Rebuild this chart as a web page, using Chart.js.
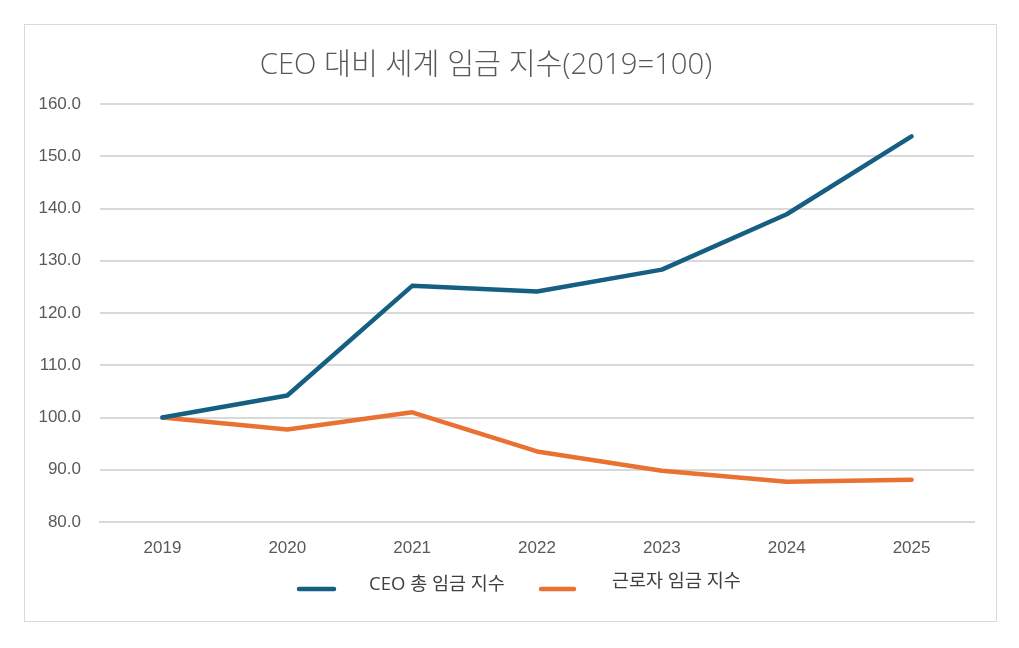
<!DOCTYPE html>
<html>
<head>
<meta charset="utf-8">
<script src="https://cdn.jsdelivr.net/npm/chart.js@4"></script>
<style>
html,body{margin:0;padding:0;background:#fff;}
#wrap{position:relative;width:1019px;height:648px;}
</style>
</head>
<body>
<div id="wrap"><canvas id="c" width="1019" height="648"></canvas></div>
<script>
const titleText = 'CEO 대비 세계 임금 지수(2019=100)';
const years = ['2019','2020','2021','2022','2023','2024','2025'];
const ceoLabel = 'CEO 총 임금 지수';
const ceoValues = [100.0, 104.2, 125.2, 124.1, 128.3, 138.9, 153.8];
const workerLabel = '근로자 임금 지수';
const workerValues = [100.0, 97.7, 101.0, 93.5, 89.8, 87.7, 88.1];
const yMin = 80, yMax = 160, yStep = 10;

const KFONT = '"Open Sans", "Noto Sans CJK KR", sans-serif';
const TFONT = '"Liberation Sans", Arial, sans-serif';

const decor = {
  id: 'decor',
  beforeDraw(chart) {
    const ctx = chart.ctx;
    ctx.save();
    ctx.fillStyle = '#ffffff';
    ctx.fillRect(0, 0, chart.width, chart.height);
    ctx.strokeStyle = '#d9d9d9';
    ctx.lineWidth = 1;
    ctx.strokeRect(24.5, 24.5, 972, 597);
    ctx.restore();
  },
  afterDraw(chart) {
    const ctx = chart.ctx;
    ctx.save();
    // title
    ctx.fillStyle = '#595959';
    ctx.font = '300 29.3px ' + KFONT;
    ctx.textAlign = 'center';
    ctx.textBaseline = 'middle';
    ctx.fillText(titleText, 486, 66);
    // legend
    const items = [
      {x0: 299, x1: 334, ly: 589, tx: 369, ty: 585},
      {x0: 541, x1: 574, ly: 589, tx: 612, ty: 582}
    ];
    chart.data.datasets.forEach((ds, i) => {
      const it = items[i];
      ctx.strokeStyle = ds.borderColor;
      ctx.lineWidth = 4.5;
      ctx.lineCap = 'round';
      ctx.beginPath();
      ctx.moveTo(it.x0, it.ly);
      ctx.lineTo(it.x1, it.ly);
      ctx.stroke();
      ctx.fillStyle = '#404040';
      ctx.font = '18.5px ' + KFONT;
      ctx.textAlign = 'left';
      ctx.textBaseline = 'middle';
      ctx.fillText(ds.label, it.tx, it.ty);
    });
    ctx.restore();
  }
};

new Chart(document.getElementById('c'), {
  type: 'line',
  data: {
    labels: years,
    datasets: [
      {label: ceoLabel, data: ceoValues, borderColor: '#156082', backgroundColor: '#156082',
       borderWidth: 4.5, pointRadius: 0, tension: 0, borderCapStyle: 'round', borderJoinStyle: 'round'},
      {label: workerLabel, data: workerValues, borderColor: '#E97132', backgroundColor: '#E97132',
       borderWidth: 4.5, pointRadius: 0, tension: 0, borderCapStyle: 'round', borderJoinStyle: 'round'}
    ]
  },
  options: {
    responsive: false,
    animation: false,
    devicePixelRatio: 1,
    layout: {padding: {left: 0, right: 45, top: 104, bottom: 76}},
    plugins: {legend: {display: false}, title: {display: false}, tooltip: {enabled: false}},
    scales: {
      x: {
        offset: true,
        grid: {display: false, drawTicks: false},
        border: {display: true, color: '#d9d9d9', width: 2},
        ticks: {color: '#595959', font: {family: TFONT, size: 17}, padding: 16, maxRotation: 0},
        afterFit(s) { s.height = 50; }
      },
      y: {
        min: yMin, max: yMax,
        grid: {color: '#d9d9d9', lineWidth: 2, drawTicks: false},
        border: {display: false},
        ticks: {stepSize: yStep, color: '#595959', font: {family: TFONT, size: 17},
                padding: 19, callback: v => Number(v).toFixed(1)},
        afterFit(s) { s.width = 100; }
      }
    }
  },
  plugins: [decor]
});
</script>
</body>
</html>
